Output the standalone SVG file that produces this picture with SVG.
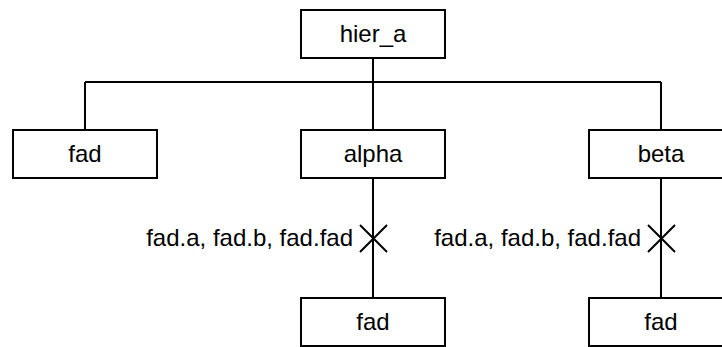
<svg xmlns="http://www.w3.org/2000/svg" width="722" height="347" viewBox="0 0 722 347">
<style>
.box{fill:#fff;stroke:#000;stroke-width:2}
.ln{fill:none;stroke:#000;stroke-width:2}
text{font-family:"Liberation Sans",Arial,sans-serif;font-size:24px;fill:#000}
.c{text-anchor:middle}
.e{text-anchor:end}
</style>
<rect width="722" height="347" fill="#fff"/>
<g id="connectors">
<path class="ln" d="M373 58V130M85 82H661M85 82V130M661 82V130M373 178V298M661 178V298"/>
<path class="ln" d="M360 225L387 252M387 225L360 252"/>
<path class="ln" d="M648 225L675 252M675 225L648 252"/>
<text class="e" x="353" y="246">fad.a, fad.b, fad.fad</text>
<text class="e" x="641" y="246">fad.a, fad.b, fad.fad</text>
</g>
<g id="hier_a"><rect class="box" x="301" y="10" width="144" height="48"/><text class="c" x="373" y="42">hier_a</text></g>
<g id="fad_top"><rect class="box" x="13" y="130" width="144" height="48"/><text class="c" x="85" y="162">fad</text></g>
<g id="alpha"><rect class="box" x="301" y="130" width="144" height="48"/><text class="c" x="373" y="162">alpha</text></g>
<g id="beta"><rect class="box" x="589" y="130" width="144" height="48"/><text class="c" x="661" y="162">beta</text></g>
<g id="fad_alpha"><rect class="box" x="301" y="298" width="144" height="48"/><text class="c" x="373" y="330">fad</text></g>
<g id="fad_beta"><rect class="box" x="589" y="298" width="144" height="48"/><text class="c" x="661" y="330">fad</text></g>
</svg>
